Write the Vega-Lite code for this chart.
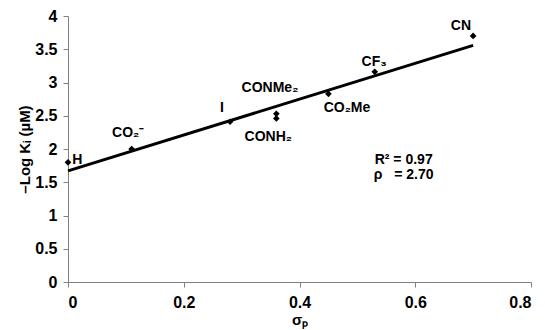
{
  "$schema": "https://vega.github.io/schema/vega-lite/v6.json",
  "width": 463,
  "height": 266,
  "autosize": "none",
  "padding": {"left": 68, "top": 16, "right": 14, "bottom": 48},
  "background": "white",
  "config": {
    "view": {"stroke": null},
    "font": "Liberation Sans",
    "axis": {"grid": false, "domainColor": "#808080", "tickColor": "#808080", "labelFont": "Liberation Sans", "labelFontWeight": "bold", "labelFontSize": 16, "labelColor": "black", "labelOverlap": false, "titleFont": "Liberation Sans", "titleFontWeight": "bold", "titleFontSize": 15, "titleColor": "black"}
  },
  "datasets": {
    "pts": [
      {"sigma": 0.0, "logK": 1.80},
      {"sigma": 0.11, "logK": 2.00},
      {"sigma": 0.28, "logK": 2.41},
      {"sigma": 0.36, "logK": 2.53},
      {"sigma": 0.36, "logK": 2.46},
      {"sigma": 0.45, "logK": 2.83},
      {"sigma": 0.53, "logK": 3.16},
      {"sigma": 0.70, "logK": 3.70}
    ],
    "labels": [
      {"lx": 0.016, "ly": 1.83, "text": "H", "align": "left"},
      {"lx": 0.104, "ly": 2.24, "text": "CO₂⁻", "align": "center"},
      {"lx": 0.266, "ly": 2.62, "text": "I", "align": "center"},
      {"lx": 0.349, "ly": 2.92, "text": "CONMe₂", "align": "center"},
      {"lx": 0.346, "ly": 2.18, "text": "CONH₂", "align": "center"},
      {"lx": 0.482, "ly": 2.62, "text": "CO₂Me", "align": "center"},
      {"lx": 0.529, "ly": 3.31, "text": "CF₃", "align": "center"},
      {"lx": 0.679, "ly": 3.85, "text": "CN", "align": "center"},
      {"lx": 0.58, "ly": 1.84, "text": "R² = 0.97", "align": "left"},
      {"lx": 0.58, "ly": 1.61, "text": "ρ\u00a0\u00a0\u00a0= 2.70", "align": "left"}
    ]
  },
  "layer": [
    {
      "data": {"name": "pts"},
      "transform": [{"regression": "logK", "on": "sigma", "extent": [0, 0.7]}],
      "mark": {"type": "line", "color": "black", "strokeWidth": 3},
      "encoding": {
        "x": {"field": "sigma", "type": "quantitative", "scale": {"domain": [0, 0.8]}, "axis": {"title": "σₚ", "values": [0, 0.2, 0.4, 0.6, 0.8], "format": ".1~f", "tickSize": 5, "labelPadding": 7, "titlePadding": 2}},
        "y": {"field": "logK", "type": "quantitative", "scale": {"domain": [0, 4]}, "axis": {"title": "–Log Kᵢ (µM)", "values": [0, 0.5, 1, 1.5, 2, 2.5, 3, 3.5, 4], "format": "~g", "tickSize": 5, "labelPadding": 6, "titlePadding": 2}}
      }
    },
    {
      "data": {"name": "pts"},
      "mark": {"type": "point", "shape": "diamond", "filled": true, "color": "black", "size": 45, "opacity": 1},
      "encoding": {
        "x": {"field": "sigma", "type": "quantitative", "axis": {"title": "σₚ", "values": [0, 0.2, 0.4, 0.6, 0.8], "format": ".1~f", "tickSize": 5, "labelPadding": 7, "titlePadding": 2}},
        "y": {"field": "logK", "type": "quantitative", "axis": {"title": "–Log Kᵢ (µM)", "values": [0, 0.5, 1, 1.5, 2, 2.5, 3, 3.5, 4], "format": "~g", "tickSize": 5, "labelPadding": 6, "titlePadding": 2}}
      }
    },
    {
      "data": {"name": "labels"},
      "mark": {"type": "text", "fontSize": 14, "fontWeight": "bold", "color": "black", "baseline": "middle", "font": "Liberation Sans"},
      "encoding": {
        "x": {"field": "lx", "type": "quantitative", "axis": {"title": "σₚ", "values": [0, 0.2, 0.4, 0.6, 0.8], "format": ".1~f", "tickSize": 5, "labelPadding": 7, "titlePadding": 2}},
        "y": {"field": "ly", "type": "quantitative", "axis": {"title": "–Log Kᵢ (µM)", "values": [0, 0.5, 1, 1.5, 2, 2.5, 3, 3.5, 4], "format": "~g", "tickSize": 5, "labelPadding": 6, "titlePadding": 2}},
        "text": {"field": "text"},
        "align": {"field": "align"}
      }
    }
  ]
}
